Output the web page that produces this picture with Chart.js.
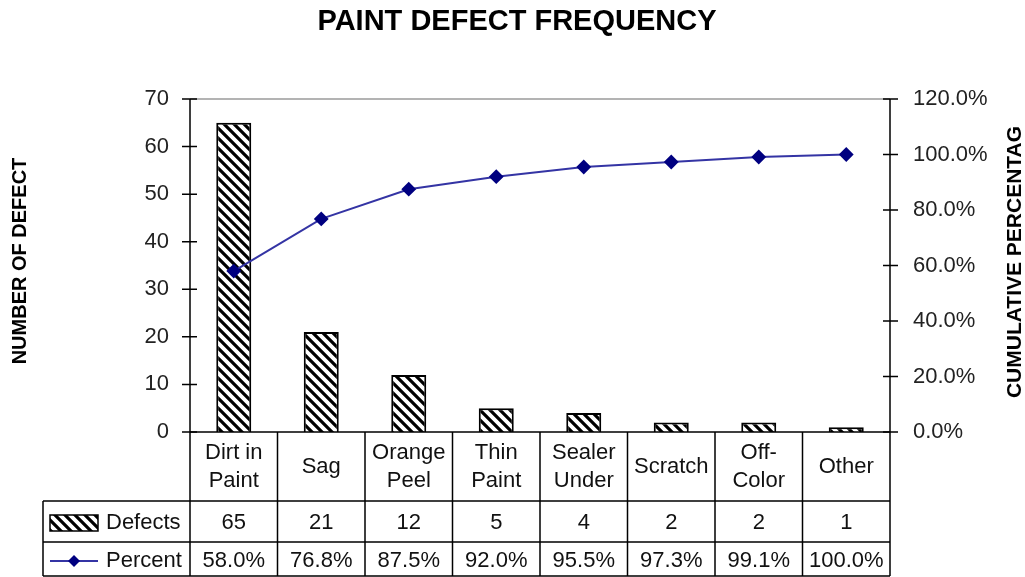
<!DOCTYPE html>
<html>
<head>
<meta charset="utf-8">
<script src="https://cdn.jsdelivr.net/npm/chart.js@4/dist/chart.umd.min.js"></script>
<style>
  body { margin: 0; background: #fff; }
  canvas { display: block; }
</style>
</head>
<body>
<canvas id="pareto" width="1025" height="577"></canvas>
<script>
const categories = [["Dirt in", "Paint"], "Sag", ["Orange", "Peel"], ["Thin", "Paint"], ["Sealer", "Under"], "Scratch", ["Off-", "Color"], "Other"];
const defects = [65, 21, 12, 5, 4, 2, 2, 1];
const percent = [58.0, 76.8, 87.5, 92.0, 95.5, 97.3, 99.1, 100.0];
const defectAxis = { min: 0, max: 70, step: 10 };
const percentAxis = { min: 0, max: 120, step: 20 };

const FONT = "'Liberation Sans', Arial, sans-serif";
const NAVY = "#000080";
const LINE = "#3434a4";

// diagonal hatch like the old excel fill
function hatch() {
  const c = document.createElement("canvas");
  c.width = 10; c.height = 10;
  const g = c.getContext("2d");
  g.fillStyle = "#fff";
  g.fillRect(0, 0, 10, 10);
  g.strokeStyle = "#000";
  g.lineWidth = 3.2;
  g.beginPath();
  g.moveTo(-2, -2); g.lineTo(12, 12);
  g.moveTo(-2, 8); g.lineTo(2, 12);
  g.moveTo(8, -2); g.lineTo(12, 2);
  g.stroke();
  return g.createPattern(c, "repeat");
}
const pattern = hatch();

function diamond(ctx, x, y, r) {
  ctx.beginPath();
  ctx.moveTo(x, y - r); ctx.lineTo(x + r, y); ctx.lineTo(x, y + r); ctx.lineTo(x - r, y);
  ctx.closePath();
  ctx.fill();
}

const paretoExtras = {
  id: "paretoExtras",
  beforeDraw(chart) {
    const ctx = chart.ctx;
    ctx.save();
    ctx.fillStyle = "#fff";
    ctx.fillRect(0, 0, chart.width, chart.height);
    ctx.restore();
  },
  afterDraw(chart) {
    const ctx = chart.ctx;
    const a = chart.chartArea;
    const x = chart.scales.x, y = chart.scales.y, y1 = chart.scales.y1;
    ctx.save();

    // frame
    ctx.strokeStyle = "#9a9a9a";
    ctx.lineWidth = 1.5;
    ctx.beginPath(); ctx.moveTo(a.left, a.top); ctx.lineTo(a.right, a.top); ctx.stroke();
    ctx.strokeStyle = "#000";
    ctx.lineWidth = 1.5;
    ctx.beginPath();
    ctx.moveTo(a.left, a.top); ctx.lineTo(a.left, a.bottom);
    ctx.moveTo(a.right, a.top); ctx.lineTo(a.right, a.bottom);
    ctx.stroke();

    // crossing tick marks
    ctx.beginPath();
    y.ticks.forEach(t => {
      const py = y.getPixelForValue(t.value);
      ctx.moveTo(a.left - 8, py); ctx.lineTo(a.left + 7, py);
    });
    y1.ticks.forEach(t => {
      const py = y1.getPixelForValue(t.value);
      ctx.moveTo(a.right - 7, py); ctx.lineTo(a.right + 8, py);
    });
    ctx.stroke();

    // data table
    const colW = (a.right - a.left) / categories.length;
    const r0 = a.bottom, r1 = 501, r2 = 542, r3 = 576;
    const legendLeft = 43;
    ctx.lineWidth = 1.5;
    ctx.beginPath();
    ctx.moveTo(a.left, r0); ctx.lineTo(a.right, r0);
    ctx.moveTo(legendLeft, r1); ctx.lineTo(a.right, r1);
    ctx.moveTo(legendLeft, r2); ctx.lineTo(a.right, r2);
    ctx.moveTo(legendLeft, r3); ctx.lineTo(a.right, r3);
    ctx.moveTo(legendLeft, r1); ctx.lineTo(legendLeft, r3);
    for (let i = 0; i <= categories.length; i++) {
      const bx = a.left + i * colW;
      ctx.moveTo(bx, r0); ctx.lineTo(bx, r3);
    }
    ctx.stroke();

    ctx.fillStyle = "#111";
    ctx.font = "22px " + FONT;
    ctx.textAlign = "center";
    ctx.textBaseline = "middle";
    categories.forEach((c, i) => {
      const cx = x.getPixelForValue(i);
      if (Array.isArray(c)) {
        ctx.fillText(c[0], cx, 453);
        ctx.fillText(c[1], cx, 481);
      } else {
        ctx.fillText(c, cx, 467);
      }
      ctx.fillText(String(defects[i]), cx, 523);
      ctx.fillText(percent[i].toFixed(1) + "%", cx, 561);
    });

    // legend keys
    ctx.textAlign = "left";
    ctx.fillText("Defects", 106, 523);
    ctx.fillText("Percent", 106, 561);
    ctx.fillStyle = pattern;
    ctx.fillRect(50, 515, 48, 16);
    ctx.strokeStyle = "#000";
    ctx.strokeRect(50, 515, 48, 16);
    ctx.strokeStyle = LINE;
    ctx.lineWidth = 2;
    ctx.beginPath(); ctx.moveTo(50, 561); ctx.lineTo(98, 561); ctx.stroke();
    ctx.fillStyle = NAVY;
    diamond(ctx, 74, 561, 6);

    // titles
    ctx.fillStyle = "#000";
    ctx.textAlign = "center";
    ctx.font = "bold 29px " + FONT;
    ctx.fillText("PAINT DEFECT FREQUENCY", 517, 22);
    ctx.font = "bold 20px " + FONT;
    ctx.translate(20, 261);
    ctx.rotate(-Math.PI / 2);
    ctx.fillText("NUMBER OF DEFECT", 0, 0);
    ctx.rotate(Math.PI / 2);
    ctx.translate(-20, -261);
    ctx.translate(1015, 262);
    ctx.rotate(-Math.PI / 2);
    ctx.font = "bold 21px " + FONT;
    ctx.fillText("CUMULATIVE PERCENTAG", 0, 0);
    ctx.restore();
  }
};

new Chart(document.querySelector("#pareto"), {
  data: {
    labels: categories,
    datasets: [
      {
        type: "line",
        label: "Percent",
        data: percent,
        yAxisID: "y1",
        borderColor: LINE,
        borderWidth: 2,
        pointStyle: "rectRot",
        pointRadius: 6,
        pointBackgroundColor: NAVY,
        pointBorderColor: NAVY,
        tension: 0,
        order: 0,
      },
      {
        type: "bar",
        label: "Defects",
        data: defects,
        yAxisID: "y",
        backgroundColor: pattern,
        borderColor: "#000",
        borderWidth: 2,
        categoryPercentage: 1,
        barPercentage: 0.4,
        order: 1,
      },
    ],
  },
  options: {
    responsive: false,
    animation: false,
    layout: { padding: { top: 99, bottom: 145, left: 0, right: 0 } },
    plugins: {
      legend: { display: false },
      title: { display: false },
      tooltip: { enabled: false },
    },
    scales: {
      x: { display: false, offset: true },
      y: {
        position: "left",
        min: defectAxis.min,
        max: defectAxis.max,
        grid: { display: false },
        border: { display: false },
        ticks: { stepSize: defectAxis.step, padding: 13, color: "#222", font: { family: FONT, size: 22 } },
        afterFit(scale) { scale.width = 190; },
      },
      y1: {
        position: "right",
        min: percentAxis.min,
        max: percentAxis.max,
        grid: { display: false },
        border: { display: false },
        ticks: {
          stepSize: percentAxis.step,
          padding: 15,
          color: "#222",
          font: { family: FONT, size: 22 },
          callback: v => v.toFixed(1) + "%",
        },
        afterFit(scale) { scale.width = 135; },
      },
    },
  },
  plugins: [paretoExtras],
});
</script>
</body>
</html>
